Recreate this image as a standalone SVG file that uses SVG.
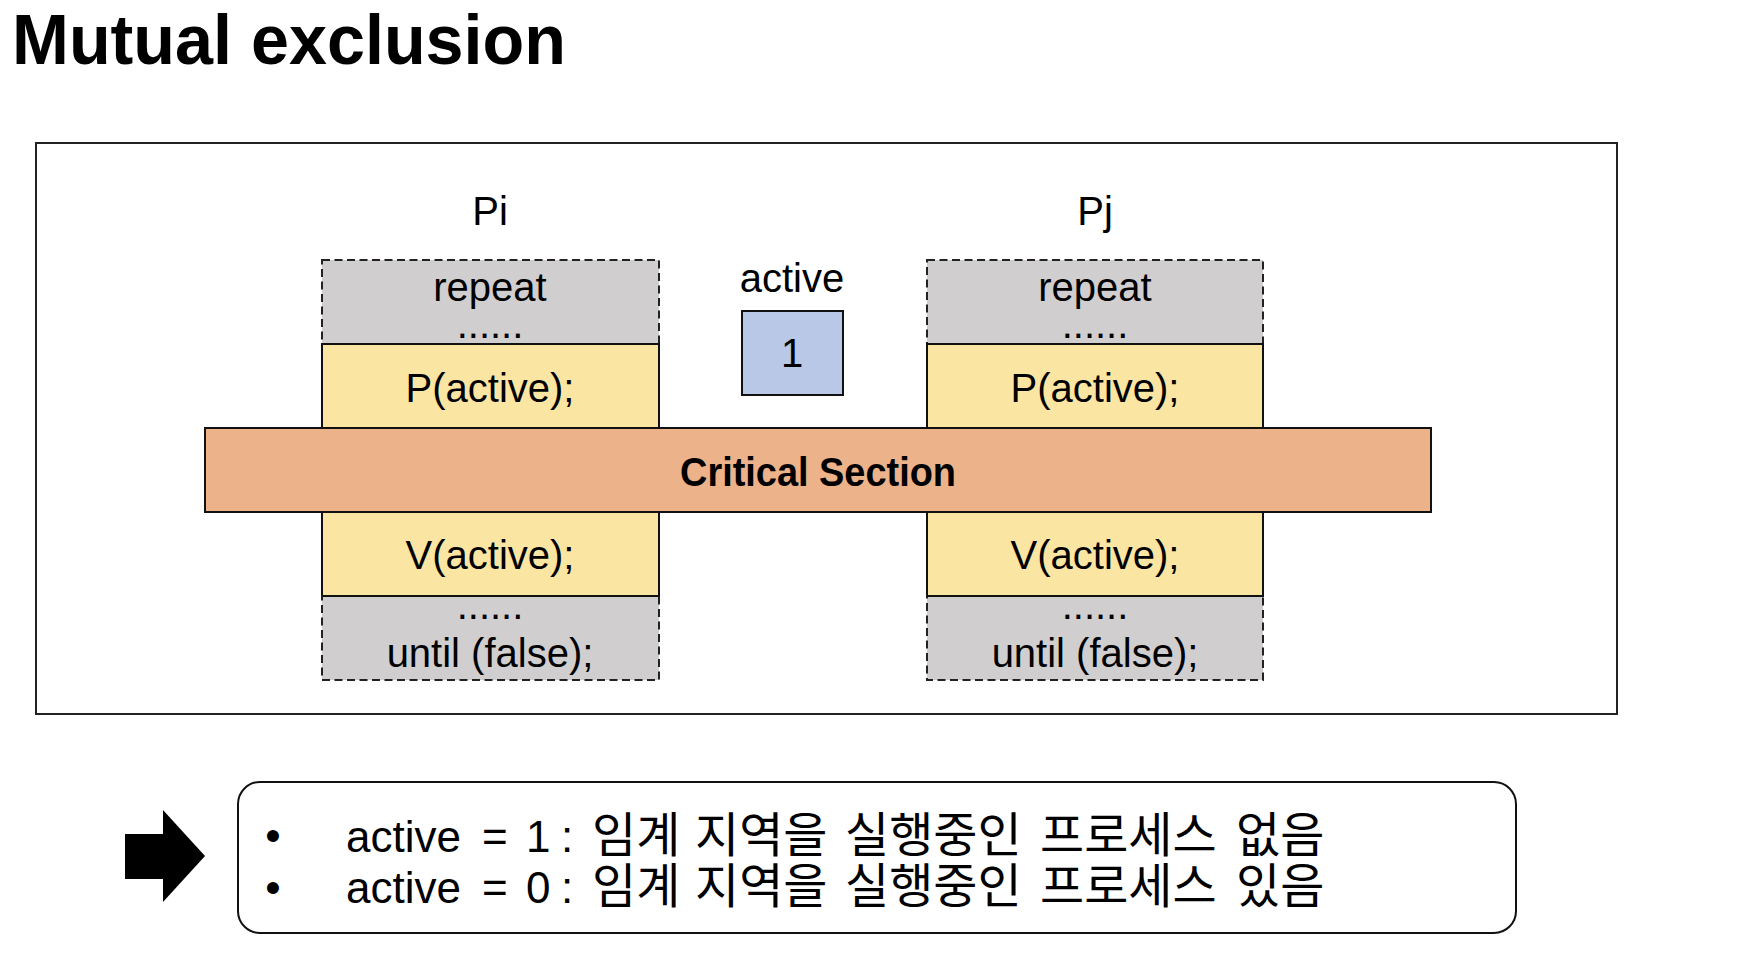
<svg xmlns="http://www.w3.org/2000/svg" width="1748" height="954" viewBox="0 0 1748 954">
<style>
text{font-family:"Liberation Sans","Noto Sans CJK KR",sans-serif;fill:#000}
.t{font-size:40px;text-anchor:middle}
.gray{fill:#D0CECE;stroke:#222;stroke-width:2;stroke-dasharray:8 4.5}
.yel{fill:#FBE5A2;stroke:#111;stroke-width:2}
.kr{font-size:44px}
.h{font-family:"Noto Sans CJK KR",sans-serif;font-size:48px}
</style>
<rect width="1748" height="954" fill="#fff"/>
<text x="12" y="64" font-size="70" font-weight="bold" textLength="554" lengthAdjust="spacingAndGlyphs">Mutual exclusion</text>
<g id="frame"><rect x="36" y="143" width="1581" height="571" fill="none" stroke="#222" stroke-width="2"/></g>
<g id="pi">
<text class="t" x="490" y="225">Pi</text>
<rect class="gray" x="322" y="260" width="337" height="84"/>
<text class="t" x="490" y="301">repeat</text>
<text class="t" x="490" y="338">......</text>
<rect class="yel" x="322" y="344" width="337" height="84"/>
<text class="t" x="490" y="402">P(active);</text>
<rect class="yel" x="322" y="512" width="337" height="84"/>
<text class="t" x="490" y="569">V(active);</text>
<rect class="gray" x="322" y="596" width="337" height="84"/>
<line x1="322" y1="596" x2="659" y2="596" stroke="#111" stroke-width="2"/>
<text class="t" x="490" y="619">......</text>
<text class="t" x="490" y="667">until (false);</text>
</g>
<g id="pj">
<text class="t" x="1095" y="225">Pj</text>
<rect class="gray" x="927" y="260" width="336" height="84"/>
<text class="t" x="1095" y="301">repeat</text>
<text class="t" x="1095" y="338">......</text>
<rect class="yel" x="927" y="344" width="336" height="84"/>
<text class="t" x="1095" y="402">P(active);</text>
<rect class="yel" x="927" y="512" width="336" height="84"/>
<text class="t" x="1095" y="569">V(active);</text>
<rect class="gray" x="927" y="596" width="336" height="84"/>
<line x1="927" y1="596" x2="1263" y2="596" stroke="#111" stroke-width="2"/>
<text class="t" x="1095" y="619">......</text>
<text class="t" x="1095" y="667">until (false);</text>
</g>
<g id="semaphore">
<text class="t" x="792" y="292">active</text>
<rect x="742" y="311" width="101" height="84" fill="#B8C8E6" stroke="#111" stroke-width="2"/>
<text class="t" x="792" y="367">1</text>
</g>
<g id="critical">
<rect x="205" y="428" width="1226" height="84" fill="#ECB28A" stroke="#111" stroke-width="2"/>
<text x="818" y="486" font-size="40" font-weight="bold" text-anchor="middle" textLength="276" lengthAdjust="spacingAndGlyphs">Critical Section</text>
</g>
<g id="connectors">
<polygon points="125,834 163,834 163,810 205,856 163,902 163,879 125,879" fill="#000"/>
</g>
<g id="note">
<rect x="238" y="782" width="1278" height="151" rx="22" ry="22" fill="#fff" stroke="#111" stroke-width="2"/>
<text class="kr" x="273" y="851" text-anchor="middle">•</text>
<text class="kr" x="273" y="903" text-anchor="middle">•</text>
<text class="kr" y="852"><tspan x="346">active</tspan><tspan x="482">=</tspan><tspan x="526">1</tspan><tspan x="561">:</tspan><tspan class="h" x="592">임계</tspan><tspan class="h" x="695">지역을</tspan><tspan class="h" x="845">실행중인</tspan><tspan class="h" x="1040">프로세스</tspan><tspan class="h" x="1236">없음</tspan></text>
<text class="kr" y="903"><tspan x="346">active</tspan><tspan x="482">=</tspan><tspan x="526">0</tspan><tspan x="561">:</tspan><tspan class="h" x="592">임계</tspan><tspan class="h" x="695">지역을</tspan><tspan class="h" x="845">실행중인</tspan><tspan class="h" x="1040">프로세스</tspan><tspan class="h" x="1236">있음</tspan></text>
</g>
</svg>
